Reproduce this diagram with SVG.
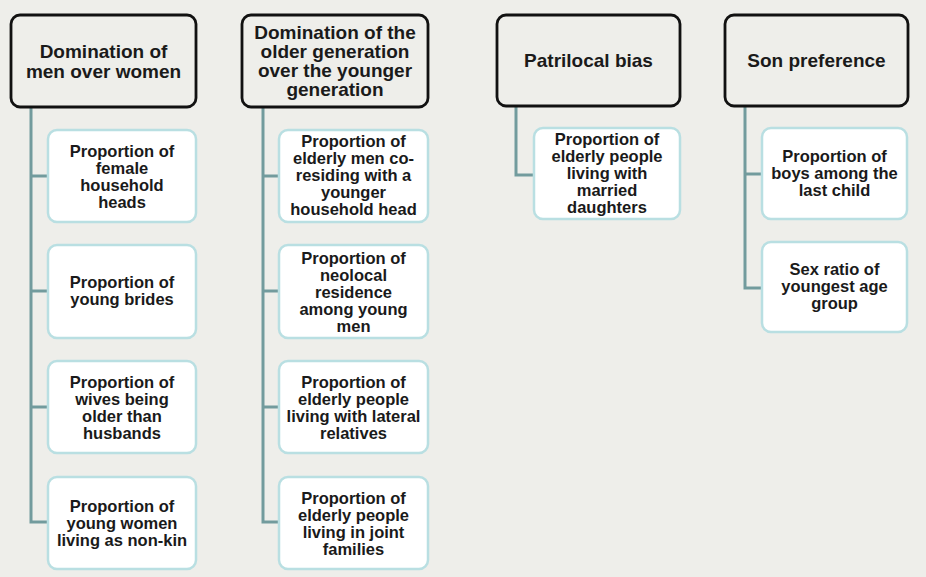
<svg xmlns="http://www.w3.org/2000/svg" width="926" height="577" viewBox="0 0 926 577">
<style>
.hd{fill:#eeeeea;stroke:#111;stroke-width:2.8}
.ch{fill:#fff;stroke:#b9dfe2;stroke-width:2.5}
.ht{font-family:"Liberation Sans",Arial,sans-serif;font-weight:bold;font-size:19px;fill:#1a1a1a;text-anchor:middle}
.ct{font-family:"Liberation Sans",Arial,sans-serif;font-weight:bold;font-size:16.5px;fill:#1a1a1a;text-anchor:middle}
.cn{fill:none;stroke:#729b9d;stroke-width:3}
</style>
<rect width="926" height="577" fill="#eeeeea"/>
<g id="connectors">
<path class="cn" d="M31 107V522H48M31 176H48M31 291H48M31 407H48"/>
<path class="cn" d="M263 107V522H279M263 176H279M263 291H279M263 407H279"/>
<path class="cn" d="M516 106V175H534"/>
<path class="cn" d="M745 106V288H762M745 174H762"/>
</g>
<g id="h1"><rect class="hd" x="11" y="15" width="185" height="92" rx="9"/>
<text class="ht" x="103.5" y="58">Domination of</text><text class="ht" x="103.5" y="78">men over women</text></g>
<g id="h2"><rect class="hd" x="242" y="15" width="186" height="92" rx="9"/>
<text class="ht" x="335" y="39">Domination of the</text><text class="ht" x="335" y="58">older generation</text><text class="ht" x="335" y="77">over the younger</text><text class="ht" x="335" y="96">generation</text></g>
<g id="h3"><rect class="hd" x="497" y="15" width="183" height="91" rx="9"/>
<text class="ht" x="588.5" y="67">Patrilocal bias</text></g>
<g id="h4"><rect class="hd" x="725" y="15" width="183" height="91" rx="9"/>
<text class="ht" x="816.5" y="67">Son preference</text></g>

<g id="c1a"><rect class="ch" x="48" y="130" width="148" height="92" rx="9"/>
<text class="ct" x="122" y="157">Proportion of</text><text class="ct" x="122" y="174">female</text><text class="ct" x="122" y="191">household</text><text class="ct" x="122" y="208">heads</text></g>
<g id="c1b"><rect class="ch" x="48" y="245" width="148" height="93" rx="9"/>
<text class="ct" x="122" y="288">Proportion of</text><text class="ct" x="122" y="305">young brides</text></g>
<g id="c1c"><rect class="ch" x="48" y="361" width="148" height="92" rx="9"/>
<text class="ct" x="122" y="388">Proportion of</text><text class="ct" x="122" y="405">wives being</text><text class="ct" x="122" y="422">older than</text><text class="ct" x="122" y="439">husbands</text></g>
<g id="c1d"><rect class="ch" x="48" y="477" width="148" height="92" rx="9"/>
<text class="ct" x="122" y="512">Proportion of</text><text class="ct" x="122" y="529">young women</text><text class="ct" x="122" y="546">living as non-kin</text></g>

<g id="c2a"><rect class="ch" x="279" y="130" width="149" height="92" rx="9"/>
<text class="ct" x="353.5" y="147">Proportion of</text><text class="ct" x="353.5" y="164">elderly men co-</text><text class="ct" x="353.5" y="181">residing with a</text><text class="ct" x="353.5" y="198">younger</text><text class="ct" x="353.5" y="215">household head</text></g>
<g id="c2b"><rect class="ch" x="279" y="245" width="149" height="93" rx="9"/>
<text class="ct" x="353.5" y="264">Proportion of</text><text class="ct" x="353.5" y="281">neolocal</text><text class="ct" x="353.5" y="298">residence</text><text class="ct" x="353.5" y="315">among young</text><text class="ct" x="353.5" y="332">men</text></g>
<g id="c2c"><rect class="ch" x="279" y="361" width="149" height="92" rx="9"/>
<text class="ct" x="353.5" y="388">Proportion of</text><text class="ct" x="353.5" y="405">elderly people</text><text class="ct" x="353.5" y="422">living with lateral</text><text class="ct" x="353.5" y="439">relatives</text></g>
<g id="c2d"><rect class="ch" x="279" y="477" width="149" height="92" rx="9"/>
<text class="ct" x="353.5" y="504">Proportion of</text><text class="ct" x="353.5" y="521">elderly people</text><text class="ct" x="353.5" y="538">living in joint</text><text class="ct" x="353.5" y="555">families</text></g>

<g id="c3a"><rect class="ch" x="534" y="128" width="146" height="91" rx="9"/>
<text class="ct" x="607" y="145">Proportion of</text><text class="ct" x="607" y="162">elderly people</text><text class="ct" x="607" y="179">living with</text><text class="ct" x="607" y="196">married</text><text class="ct" x="607" y="213">daughters</text></g>

<g id="c4a"><rect class="ch" x="762" y="128" width="145" height="91" rx="9"/>
<text class="ct" x="834.5" y="162">Proportion of</text><text class="ct" x="834.5" y="179">boys among the</text><text class="ct" x="834.5" y="196">last child</text></g>
<g id="c4b"><rect class="ch" x="762" y="242" width="145" height="90" rx="9"/>
<text class="ct" x="834.5" y="275">Sex ratio of</text><text class="ct" x="834.5" y="292">youngest age</text><text class="ct" x="834.5" y="309">group</text></g>
</svg>
